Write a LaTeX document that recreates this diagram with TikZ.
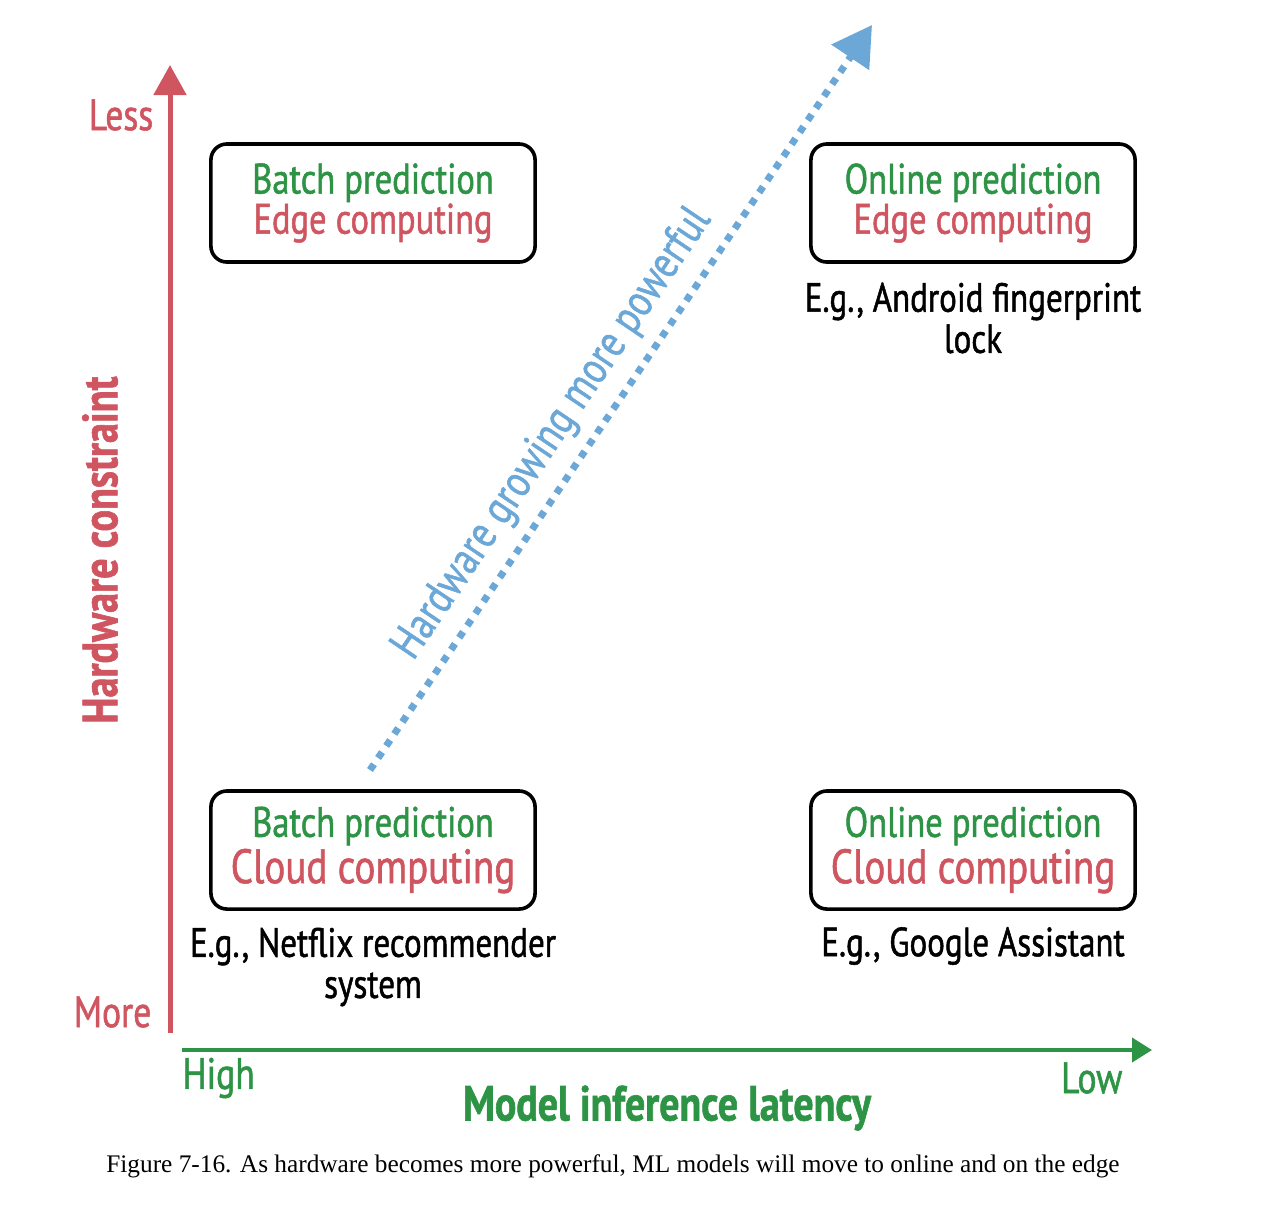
\documentclass[tikz,border=0pt]{standalone}
\usepackage{fontspec}
\setmainfont{PT Sans}[FakeStretch=0.81,FakeBold=1.2]
\newfontfamily\capfont{Liberation Serif}
\usetikzlibrary{arrows.meta,calc}
\definecolor{axred}{RGB}{207,85,96}
\definecolor{axgreen}{RGB}{46,148,69}
\definecolor{hwblue}{RGB}{107,168,216}

\begin{document}
\begin{tikzpicture}[x=0.01cm,y=-0.01cm,
  box/.style={draw,line width=0.36mm,rounded corners=1.6mm,minimum width=3.24cm,minimum height=1.18cm,align=center,inner sep=0pt,font=\fontsize{12.1}{11.4}\selectfont},
  eg/.style={align=center,font=\fontsize{11.6}{11.7}\selectfont},
  tick/.style={inner sep=0pt,font=\fontsize{12.5}{12}\selectfont}]
\useasboundingbox (0,0) rectangle (1282,1220);
% axes
\coordinate (O) at (170,1033);
\coordinate (Ytop) at (170,65);
\coordinate (Xs) at (182,1050);
\coordinate (Xe) at (1152,1050);
\draw[axred,line width=0.5mm,-{Triangle[length=3mm,width=3.2mm]}] (O) -- (Ytop);
\draw[axgreen,line width=0.4mm,-{Triangle[length=2mm,width=2.4mm]}] (Xs) -- (Xe);
\node[tick,text=axred,anchor=east] (less) at (154,115) {Less};
\node[tick,text=axred,anchor=east] (more) at (152,1012) {More};
\node[tick,text=axgreen,anchor=west] (high) at (182,1078) {High};
\node[tick,text=axgreen,anchor=east] (low) at (1123,1078) {Low};
\node[rotate=90,text=axred,font=\fontsize{14.1}{14}\bfseries] (hc) at (100,550) {Hardware constraint};
\node[text=axgreen,font=\fontsize{14}{14}\bfseries] (mil) at (667,1108) {Model inference latency};
% quadrants
\node[box] (tl) at (373,203) {{\color{axgreen}Batch prediction}\\{\color{axred}Edge computing}};
\node[box] (tr) at (973,203) {{\color{axgreen}Online prediction}\\{\color{axred}Edge computing}};
\node[box] (bl) at (373,850) {{\color{axgreen}Batch prediction}\\{\color{axred}\fontsize{13.7}{12}\selectfont Cloud computing}};
\node[box] (br) at (973,850) {{\color{axgreen}Online prediction}\\{\color{axred}\fontsize{13.7}{12}\selectfont Cloud computing}};
\node[eg] (tr-eg) at (973,318) {E.g., Android fingerprint\\lock};
\node[eg] (bl-eg) at (373,967) {E.g., Netflix recommender\\system};
\node[eg] (br-eg) at (973,946) {E.g., Google Assistant};
% trend
\coordinate (hs) at (370,770);
\coordinate (he) at (872,25);
\draw[hwblue,line width=0.7mm,dash pattern=on 0.7mm off 0.75mm,-{Triangle[length=3.9mm,width=4.4mm]}] (hs) -- (he);
\node[rotate=56,text=hwblue,font=\fontsize{13}{13}\selectfont] (hw) at (553,434) {Hardware growing more powerful};
\node[font=\capfont\fontsize{7.2}{8}\selectfont] (cap) at (613,1166) {Figure 7-16. As hardware becomes more powerful, ML models will move to online and on the edge};
\end{tikzpicture}
\end{document}
